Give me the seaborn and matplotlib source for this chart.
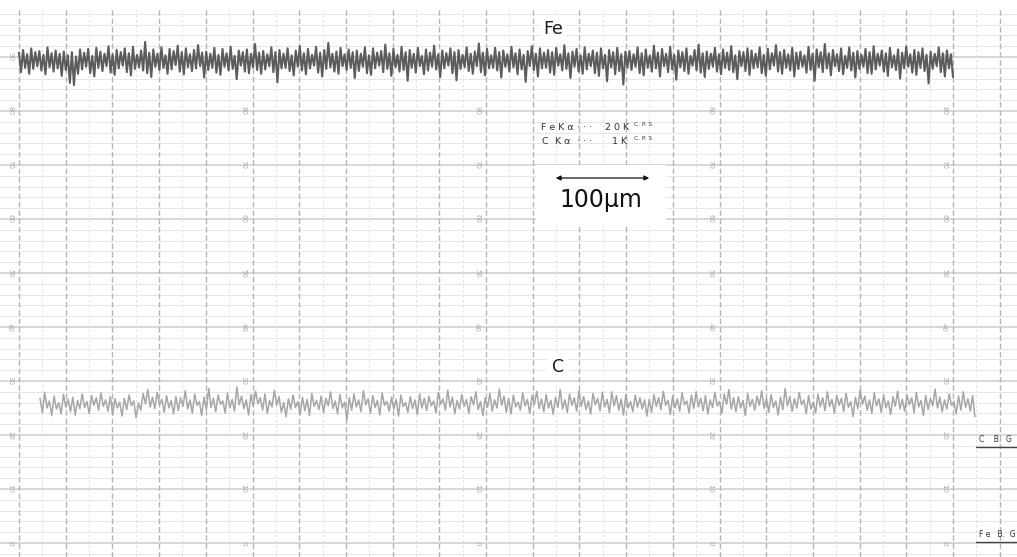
import numpy as np
import pandas as pd
import matplotlib
matplotlib.use("Agg")
import matplotlib.pyplot as plt
import seaborn as sns
from matplotlib.patches import Rectangle

# ---------------- data ----------------
fe_values = [
    90.8, 87.2, 91.3, 88.0, 90.5, 86.9, 91.6, 87.8, 90.9, 88.3, 91.1, 87.5, 90.4, 86.8, 91.8, 88.1, 90.7, 87.3, 91.2, 87.9,
    90.6, 86.5, 91.0, 87.6, 90.3, 85.2, 90.9, 84.8, 90.1, 86.9, 91.4, 87.7, 90.8, 88.2, 91.5, 87.0, 90.2, 86.4, 91.7, 88.0,
    91.0, 87.4, 90.6, 88.3, 92.0, 87.1, 90.5, 86.7, 91.3, 87.9, 90.9, 88.4, 91.6, 87.2, 90.7, 86.6, 91.9, 87.8, 90.4, 88.1,
    91.2, 87.5, 92.8, 87.0, 90.8, 86.3, 91.4, 88.2, 90.6, 87.6, 91.8, 88.0, 90.3, 86.9, 91.5, 87.7, 91.1, 88.5, 92.1, 87.3,
    90.9, 86.8, 91.6, 88.1, 90.5, 87.4, 91.3, 87.9, 92.2, 88.3, 90.8, 86.2, 91.0, 87.6, 90.6, 88.0, 91.7, 87.1, 90.4, 86.7,
    91.5, 88.2, 90.7, 87.5, 91.9, 87.8, 90.2, 85.9, 91.2, 88.4, 90.9, 87.3, 91.4, 87.0, 90.6, 88.1, 92.4, 87.6, 90.8, 86.9,
    91.1, 87.7, 90.5, 88.3, 91.8, 87.2, 90.9, 85.3, 91.3, 87.9, 90.6, 88.0, 91.6, 87.4, 90.3, 86.6, 91.2, 88.2, 92.0, 87.5,
    90.7, 86.8, 91.5, 87.9, 90.4, 88.4, 91.9, 87.1, 90.8, 86.4, 91.3, 87.8, 92.6, 88.1, 90.6, 87.3, 91.0, 86.9, 91.7, 88.3,
    90.5, 87.6, 91.4, 88.0, 90.9, 86.1, 91.2, 87.4, 90.6, 88.2, 91.8, 87.0, 90.3, 86.7, 91.6, 87.9, 90.8, 88.4, 91.1, 87.2,
    92.3, 87.8, 90.7, 86.5, 91.5, 88.1, 90.4, 87.3, 91.9, 87.6, 90.9, 85.6, 91.3, 88.0, 90.6, 87.1, 91.7, 88.3, 90.2, 86.8,
    91.4, 87.5, 90.8, 88.2, 92.1, 87.7, 90.5, 86.3, 91.2, 87.9, 90.7, 88.4, 91.6, 87.0, 90.9, 85.7, 91.3, 87.8, 90.4, 88.1,
    91.8, 87.4, 90.6, 86.9, 91.0, 88.3, 92.5, 87.2, 90.8, 86.6, 91.5, 87.9, 90.3, 88.0, 91.7, 87.5, 90.9, 86.2, 91.2, 88.2,
    90.5, 87.3, 91.9, 88.1, 90.7, 86.8, 91.4, 87.7, 90.4, 85.4, 91.1, 88.3, 92.0, 87.6, 90.6, 86.4, 91.6, 87.9, 90.8, 88.0,
    91.3, 87.1, 90.9, 86.7, 91.7, 88.4, 90.5, 87.5, 92.2, 87.8, 90.7, 86.1, 91.0, 88.2, 91.5, 87.3, 90.3, 86.9, 91.8, 87.7,
    90.6, 88.3, 91.2, 87.0, 90.8, 86.5, 91.6, 87.9, 90.4, 85.5, 91.3, 88.1, 90.9, 86.8, 91.7, 87.4, 90.5, 84.9, 91.0, 88.0,
    91.1, 87.6, 90.5, 88.2, 91.8, 87.0, 90.7, 86.6, 91.4, 88.0, 90.3, 87.3, 92.1, 87.9, 90.8, 86.4, 91.5, 88.3, 90.6, 87.2,
    91.9, 87.7, 90.4, 85.8, 91.2, 88.1, 90.9, 87.4, 91.6, 86.9, 90.2, 88.4, 91.3, 87.5, 92.3, 87.1, 90.7, 86.3, 91.0, 87.8,
    90.6, 88.2, 91.7, 87.3, 90.5, 86.8, 91.4, 88.0, 90.8, 87.6, 92.0, 87.2, 90.3, 85.9, 91.1, 88.3, 90.9, 87.4, 91.6, 86.7,
    91.2, 87.9, 90.6, 88.1, 91.8, 87.0, 90.4, 86.5, 91.5, 87.7, 90.7, 88.4, 92.2, 87.3, 90.9, 86.9, 91.3, 88.0, 90.5, 87.5,
    91.7, 86.4, 90.8, 87.8, 91.0, 88.2, 90.3, 87.1, 91.9, 87.6, 90.6, 85.6, 91.4, 88.1, 90.9, 87.2, 92.4, 87.9, 90.7, 86.6,
    91.3, 88.3, 90.5, 87.4, 91.6, 86.8, 90.2, 88.0, 91.8, 87.5, 90.8, 86.2, 91.1, 87.8, 90.4, 88.2, 91.5, 87.0, 90.9, 86.9,
    92.0, 87.7, 90.6, 88.4, 91.2, 87.3, 90.7, 86.5, 91.7, 88.1, 90.3, 87.6, 91.4, 86.0, 90.8, 87.9, 91.9, 88.2, 90.5, 87.1,
    91.3, 86.7, 90.9, 88.0, 91.6, 87.4, 90.4, 85.1, 91.0, 87.8, 90.6, 88.3, 91.8, 87.2, 90.7, 86.4, 91.2, 87.9, 90.5, 86.3,
]

c_values = [
    26.8, 24.1, 27.9, 25.0, 26.3, 23.6, 27.2, 24.8, 26.0, 23.9, 27.5, 25.2, 26.6, 24.3, 27.0, 23.7, 26.4, 24.9, 27.6, 25.1,
    26.2, 24.0, 27.3, 25.5, 26.9, 24.6, 27.8, 25.3, 26.5, 24.4, 27.1, 23.8, 26.7, 25.0, 26.1, 23.5, 26.8, 24.7, 27.4, 25.4,
    26.3, 23.2, 25.9, 24.6, 27.7, 25.8, 28.4, 25.2, 27.0, 24.9, 27.9, 25.6, 26.6, 24.2, 27.3, 25.0, 26.4, 23.9, 27.1, 24.5,
    26.9, 25.3, 28.2, 24.8, 26.5, 24.0, 27.6, 25.5, 26.2, 23.6, 27.0, 24.7, 28.6, 25.1, 26.8, 24.3, 27.4, 25.7, 26.3, 24.1,
    27.8, 25.0, 26.6, 24.4, 28.9, 25.6, 27.2, 24.9, 26.5, 23.7, 27.5, 25.3, 28.1, 25.8, 26.9, 24.6, 27.6, 24.0, 26.4, 25.2,
    28.3, 25.5, 27.1, 24.2, 26.0, 23.4, 26.7, 24.8, 27.4, 25.1, 26.2, 23.8, 27.0, 24.5, 26.6, 23.6, 27.7, 25.3, 26.4, 24.7,
    27.2, 24.1, 26.8, 25.4, 28.0, 24.9, 26.3, 23.9, 27.5, 25.0, 26.1, 22.8, 26.9, 24.6, 27.6, 25.2, 26.5, 24.3, 28.2, 25.6,
    26.7, 24.0, 27.3, 25.1, 26.4, 23.7, 27.8, 25.5, 26.2, 24.4, 27.0, 24.8, 26.6, 23.5, 27.4, 25.3, 26.0, 24.2, 27.1, 24.9,
    26.5, 23.8, 27.6, 25.0, 26.8, 24.5, 27.2, 25.4, 26.3, 24.1, 27.9, 25.7, 26.7, 24.6, 28.3, 25.2, 27.0, 23.9, 26.4, 24.8,
    27.5, 25.3, 26.6, 24.0, 27.1, 25.6, 28.0, 24.7, 26.2, 23.6, 26.9, 25.1, 27.7, 24.4, 26.5, 25.0, 28.5, 25.5, 27.2, 24.2,
    26.8, 23.9, 27.4, 25.2, 26.1, 24.6, 27.8, 25.4, 26.6, 24.0, 27.3, 25.7, 28.1, 24.9, 26.7, 24.3, 27.5, 25.0, 26.4, 23.8,
    27.0, 25.1, 28.4, 24.8, 26.5, 24.2, 27.6, 25.5, 26.9, 24.4, 28.2, 25.3, 27.1, 24.7, 26.3, 23.9, 27.7, 25.6, 26.8, 24.5,
    27.9, 25.2, 26.6, 24.1, 28.0, 25.4, 27.3, 24.6, 26.7, 23.7, 27.5, 25.0, 26.2, 24.3, 27.4, 25.1, 26.9, 24.8, 26.5, 23.5,
    26.6, 24.2, 27.5, 25.3, 26.9, 24.7, 28.1, 25.5, 26.4, 23.8, 27.2, 25.0, 26.7, 24.4, 27.8, 25.6, 26.3, 24.1, 27.4, 24.9,
    28.0, 25.2, 26.8, 24.5, 27.3, 23.9, 26.5, 25.1, 27.9, 25.4, 26.2, 24.0, 27.6, 25.7, 28.4, 24.8, 26.9, 24.3, 27.1, 25.0,
    26.4, 23.6, 27.7, 25.3, 26.6, 24.6, 27.2, 25.5, 28.2, 24.9, 26.8, 24.2, 27.5, 25.1, 26.3, 23.7, 27.0, 24.7, 28.6, 25.4,
    27.1, 24.4, 26.7, 25.0, 27.9, 25.6, 26.5, 23.9, 27.3, 24.8, 26.1, 24.1, 27.6, 25.2, 26.9, 24.5, 28.0, 25.3, 26.6, 24.0,
    27.4, 25.5, 26.8, 24.3, 27.7, 25.1, 26.2, 23.4, 27.0, 24.9, 28.3, 25.7, 27.2, 24.6, 26.5, 24.0, 27.8, 25.4, 26.7, 24.2,
    27.5, 25.0, 26.3, 23.8, 27.1, 25.3, 28.1, 24.8, 26.6, 24.4, 27.4, 25.6, 26.9, 24.1, 27.9, 25.2, 26.4, 23.6, 27.3, 24.7,
    26.8, 25.4, 28.5, 25.0, 27.0, 24.3, 26.5, 24.8, 27.6, 25.5, 26.2, 23.9, 27.2, 24.6, 28.0, 25.1, 26.7, 24.4, 27.3, 23.4,
]

scale_labels = ["0", "10", "20", "30", "40", "50", "60", "70", "80", "90"]
scale_values = [0, 10, 20, 30, 40, 50, 60, 70, 80, 90]
label_columns = [0, 5, 10, 15, 20]
fe_span = (0.0, 20.0)
c_span = (0.45, 20.47)
rate_fe = ["F e K α", "· · ·", "2 0 K"]
rate_c = ["C", "K α", "· · ·", "1 K"]
rate_unit = "C. P. S"
bg_labels = ["C    B.  G", "F e   B.  G"]
bg_levels = [17.8, 0.2]

# ---------------- figure ----------------
sns.set_style("white")
W, H, DPI = 1017, 557, 100
fig = plt.figure(figsize=(W / DPI, H / DPI), dpi=DPI)
fig.patch.set_facecolor("white")

# pixel mapping helpers (chart paper: 46.7 px per division, 5.4 px per unit)
def px(x):
    return (x - 19) / 46.7

def py(y):
    return (543 - y) / 5.4

ax = fig.add_axes([0, 0, 1, 549 / H])
ax.set_facecolor("#f5f5f5")

# grid
for v in np.arange(-2, 101, 2):
    major = (v % 10 == 0)
    ax.axhline(v, color="#cdcdcd" if major else "#e3e3e3",
               lw=1.1 if major else 0.6, zorder=0)
for k in np.arange(-0.5, 22, 0.5):
    major = float(k).is_integer()
    ax.axvline(k, color="#b5b5b5" if major else "#dddddd",
               lw=1.0 if major else 0.6, ls=(0, (4, 2)) if major else (0, (3, 3)), zorder=0)

# scale labels on the paper
for col in label_columns:
    for lab, val in zip(scale_labels, scale_values):
        ax.text(col - 0.19, val, lab, rotation=-90, ha="center", va="center",
                fontsize=5, color="#a8a8a8", zorder=1)

# traces
fe_df = pd.DataFrame({"x": np.linspace(fe_span[0], fe_span[1], len(fe_values)), "y": fe_values})
c_df = pd.DataFrame({"x": np.linspace(c_span[0], c_span[1], len(c_values)), "y": c_values})
sns.lineplot(data=fe_df, x="x", y="y", ax=ax, color="#5c5c5c", lw=1.5, sort=False, zorder=3)
sns.lineplot(data=c_df, x="x", y="y", ax=ax, color="#a6a6a6", lw=1.1, sort=False, zorder=3)

ax.set_xlim(px(0), px(W))
ax.set_ylim(py(H), py(8))
ax.set_axis_off()

# circled labels
for (cx, cy, lab) in [(553, 29, "Fe"), (558, 367, "C")]:
    ax.text(px(cx), py(cy), lab, ha="center", va="center", fontsize=12.5,
            color="#1a1a1a", zorder=6,
            bbox=dict(boxstyle="circle,pad=0.22", fc="white", ec="none"))

# count-rate annotation
for parts, xs, yy in [(rate_fe, [541, 577, 605], 128), (rate_c, [541, 555, 577, 612], 142)]:
    for part, xx in zip(parts, xs):
        ax.text(px(xx), py(yy), part, fontsize=6.8, color="#333333",
                va="center", ha="left", zorder=4)
    ax.text(px(634), py(yy - 3), rate_unit, fontsize=4.2, color="#333333",
            va="center", ha="left", zorder=4)

# scale bar box
box = Rectangle((px(536), py(224)), px(666) - px(536), py(165) - py(224),
                facecolor="white", edgecolor="none", zorder=4)
ax.add_patch(box)
ax.annotate("", xy=(px(652), py(178)), xytext=(px(553), py(178)),
            arrowprops=dict(arrowstyle="<|-|>", color="#111111", lw=0.9,
                            mutation_scale=7), zorder=5)
ax.text(px(601), py(200), "100μm", fontsize=17, color="#111111",
        ha="center", va="center", zorder=5)

# background level markers on the right
for lab, lvl in zip(bg_labels, bg_levels):
    ax.plot([px(976), px(W)], [lvl, lvl], color="#444444", lw=1.0, zorder=4)
    ax.text(px(979), lvl + 1.3, lab, fontsize=5.5, color="#333333",
            ha="left", va="center", zorder=4)

fig.savefig("out.png", dpi=DPI, facecolor="white")
